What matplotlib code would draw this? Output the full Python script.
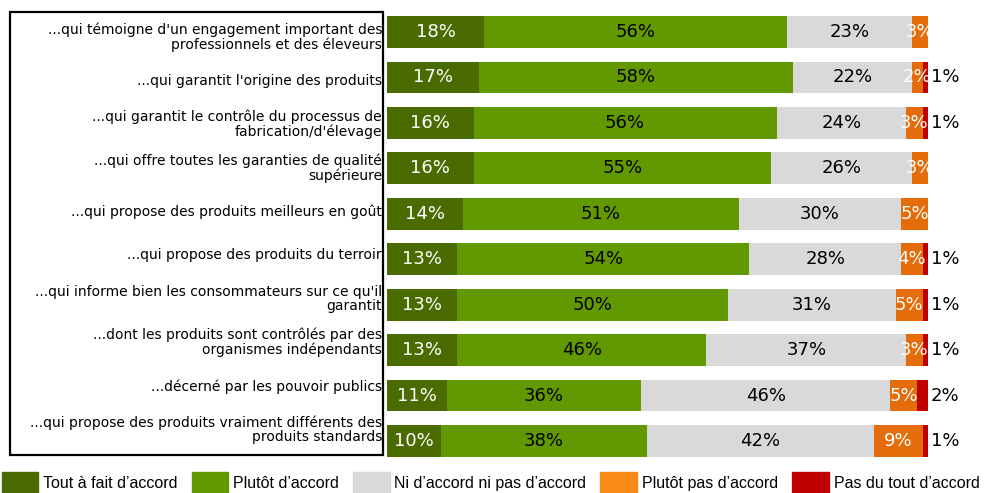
import matplotlib.pyplot as plt
import numpy as np
from matplotlib.patches import Patch, Rectangle

categories = [
    "...qui témoigne d'un engagement important des\nprofessionnels et des éleveurs",
    "...qui garantit l'origine des produits",
    "...qui garantit le contrôle du processus de\nfabrication/d'élevage",
    "...qui offre toutes les garanties de qualité\nsupérieure",
    "...qui propose des produits meilleurs en goût",
    "...qui propose des produits du terroir",
    "...qui informe bien les consommateurs sur ce qu'il\ngarantit",
    "...dont les produits sont contrôlés par des\norganismes indépendants",
    "...décerné par les pouvoir publics",
    "...qui propose des produits vraiment différents des\nproduits standards",
]

tout_a_fait = [18, 17, 16, 16, 14, 13, 13, 13, 11, 10]
plutot = [56, 58, 56, 55, 51, 54, 50, 46, 36, 38]
ni_ni = [23, 22, 24, 26, 30, 28, 31, 37, 46, 42]
plutot_pas = [3, 2, 3, 3, 5, 4, 5, 3, 5, 9]
pas_du_tout = [0, 1, 1, 0, 0, 1, 1, 1, 2, 1]

series_names = ["Tout à fait d’accord", "Plutôt d’accord", "Ni d’accord ni pas d’accord",
                "Plutôt pas d’accord", "Pas du tout d’accord"]
colors = ["#4a6b00", "#639900", "#d9d9d9", "#e46c0a", "#c00000"]
legend_colors = ["#4a6b00", "#639900", "#d9d9d9", "#fa8a16", "#c00000"]
text_colors = ["white", "black", "black", "white", None]

series = [tout_a_fait, plutot, ni_ni, plutot_pas, pas_du_tout]

W, H = 997, 493
fig = plt.figure(figsize=(W / 100, H / 100), dpi=100)
ax = fig.add_axes([387 / W, 1 - 463.7 / H, 541 / W, (463.7 - 9.3) / H])

y = np.arange(len(categories))
left = np.zeros(len(categories))
for vals, col, tcol in zip(series, colors, text_colors):
    vals = np.array(vals, dtype=float)
    ax.barh(y, vals, left=left, height=0.70, color=col, edgecolor="none")
    for i, v in enumerate(vals):
        if v <= 0:
            continue
        if tcol is None:
            ax.text(103.2, y[i], f"{v:.0f}%", ha="center", va="center",
                    fontsize=13, color="black", clip_on=False)
        else:
            ax.text(left[i] + v / 2, y[i], f"{v:.0f}%", ha="center", va="center",
                    fontsize=13, color=tcol)
    left += vals

ax.set_xlim(0, 100)
ax.set_ylim(len(categories) - 0.5, -0.5)
ax.set_yticks([])
ax.set_xticks([])
for s in ax.spines.values():
    s.set_visible(False)

# category labels sit in their own box, on a slightly tighter grid than the bars
for i, cat in enumerate(categories):
    py = 37.5 + i * 43.6
    fig.text(382 / W, 1 - py / H, cat, ha="right", va="center",
             fontsize=10, linespacing=1.05)

fig.patches.append(Rectangle((10 / W, 1 - 455 / H), 373 / W, 443 / H,
                             transform=fig.transFigure, fill=False,
                             edgecolor="black", linewidth=1.6))

handles = [Patch(color=c) for c in legend_colors]
fig.legend(handles, series_names, loc="lower left", ncol=5,
           bbox_to_anchor=(-0.008, -0.02, 1.0, 0.06), mode="expand",
           frameon=False, prop={"family": "Liberation Sans", "size": 11.5},
           handlelength=2.3, handleheight=1.7, handletextpad=0.3, borderaxespad=0.2)

fig.savefig("out.png", dpi=100)
